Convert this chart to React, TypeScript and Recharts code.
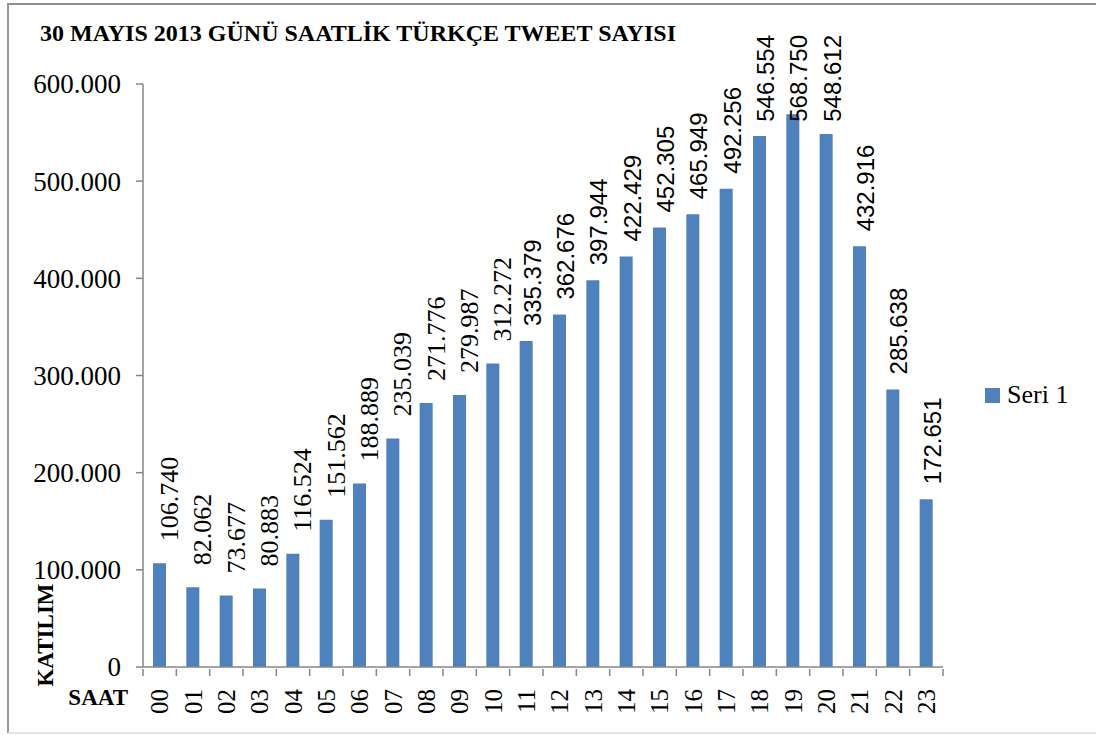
import { Bar, BarChart, LabelList, Legend, XAxis, YAxis } from "recharts";

const title = "30 MAYIS 2013 GÜNÜ SAATLİK TÜRKÇE TWEET SAYISI";
const seriesName = "Seri 1";
const yLabel = "KATILIM";
const xLabel = "SAAT";

const hours = [
  "00", "01", "02", "03", "04", "05", "06", "07", "08", "09", "10", "11",
  "12", "13", "14", "15", "16", "17", "18", "19", "20", "21", "22", "23"
];
const tweets = [
  106740, 82062, 73677, 80883, 116524, 151562, 188889, 235039, 271776, 279987, 312272, 335379,
  362676, 397944, 422429, 452305, 465949, 492256, 546554, 568750, 548612, 432916, 285638, 172651
];
const yTicks = [0, 100000, 200000, 300000, 400000, 500000, 600000];

const data = hours.map((hour, i) => ({ hour, value: tweets[i] }));

const W = 1096;
const H = 735;
const PLOT_LEFT = 143;
const PLOT_RIGHT = 943;
const PLOT_TOP = 84;
const PLOT_BOTTOM = 667;
const PLOT_W = PLOT_RIGHT - PLOT_LEFT;
const LABEL_MIN_TOP = 35;

const BLUE = "#4F81BD";
const AXIS = "#868686";
const SERIF = "'Liberation Serif', 'Times New Roman', serif";
const SANS = "'Liberation Sans', Arial, sans-serif";

// 600000 -> "600.000"
const fmt = (v: number) => String(v).replace(/\B(?=(\d{3})+(?!\d))/g, ".");

function HourTick(props: any) {
  const { x, y, payload } = props;
  const band = PLOT_W / hours.length;
  const left = x - band / 2;
  const last = payload.index === hours.length - 1;
  return (
    <g>
      <line x1={left} x2={left} y1={y} y2={y + 7} stroke={AXIS} strokeWidth={1.5} />
      {last && <line x1={left + band} x2={left + band} y1={y} y2={y + 7} stroke={AXIS} strokeWidth={1.5} />}
      <text
        transform={`translate(${x},${y + 20}) rotate(-90)`}
        textAnchor="end"
        dominantBaseline="central"
        style={{ fontFamily: SERIF, fontSize: 25 }}
        fill="#000"
      >
        {payload.value}
      </text>
    </g>
  );
}

function CountTick(props: any) {
  const { x, y, payload } = props;
  return (
    <text x={x} y={y} dy="0.35em" textAnchor="end" style={{ fontFamily: SERIF, fontSize: 27 }} fill="#000">
      {fmt(payload.value)}
    </text>
  );
}

function ValueLabel(props: any) {
  const { x, y, width, value, index } = props;
  const serif = index <= 10;
  const size = serif ? 26 : 24;
  const text = fmt(Number(value));
  const est = size * (serif ? (text.length - 1) * 0.5 + 0.25 : (text.length - 1) * 0.556 + 0.278);
  const gap = serif ? 22 : 15;
  const bottom = Math.max(y - gap, LABEL_MIN_TOP + est);
  const cx = x + width / 2 + (serif ? 10 : 6);
  return (
    <text
      transform={`translate(${cx},${bottom}) rotate(-90)`}
      textAnchor="start"
      dominantBaseline="central"
      style={{ fontFamily: serif ? SERIF : SANS, fontSize: size }}
      fill="#000"
    >
      {text}
    </text>
  );
}

function LegendBox(props: any) {
  const items = props.payload || [];
  return (
    <div>
      {items.map((item: any) => (
        <div key={item.value} style={{ display: "flex", alignItems: "center" }}>
          <span style={{ display: "inline-block", width: 15, height: 15, background: item.color, marginRight: 7 }} />
          <span style={{ fontFamily: SERIF, fontSize: 26, color: "#000" }}>{item.value}</span>
        </div>
      ))}
    </div>
  );
}

export default function App() {
  return (
    <div style={{ position: "absolute", left: 0, top: 0, width: W, height: H, overflow: "hidden", background: "#fff" }}>
      <BarChart
        width={W}
        height={H}
        data={data}
        margin={{ top: PLOT_TOP, right: W - PLOT_RIGHT, bottom: H - PLOT_BOTTOM - 60, left: PLOT_LEFT - 120 }}
      >
        <XAxis
          dataKey="hour"
          interval={0}
          height={60}
          tickSize={0}
          tickLine={false}
          axisLine={{ stroke: AXIS, strokeWidth: 1.5 }}
          tick={<HourTick />}
        />
        <YAxis
          type="number"
          domain={[0, 600000]}
          ticks={yTicks}
          interval={0}
          width={120}
          tickSize={7}
          tickMargin={15}
          axisLine={{ stroke: AXIS, strokeWidth: 1.5 }}
          tickLine={{ stroke: AXIS, strokeWidth: 1.5 }}
          tick={<CountTick />}
        />
        <Legend
          layout="horizontal"
          verticalAlign="middle"
          align="center"
          wrapperStyle={{ left: 985, top: 380, width: "auto" }}
          content={<LegendBox />}
        />
        <Bar dataKey="value" name={seriesName} fill={BLUE} barSize={13} isAnimationActive={false}>
          <LabelList dataKey="value" content={<ValueLabel />} />
        </Bar>
      </BarChart>
      <svg width={W} height={H} style={{ position: "absolute", left: 0, top: 0, pointerEvents: "none" }}>
        <line x1={8} x2={8} y1={3} y2={733} stroke="#9a9a9a" strokeWidth={2} />
        <line x1={8} x2={W} y1={4} y2={4} stroke="#8f8f8f" strokeWidth={2} />
        <line x1={8} x2={W} y1={733} y2={733} stroke="#dcdcdc" strokeWidth={1.5} />
        <text x={40} y={41} style={{ fontFamily: SERIF, fontWeight: "bold", fontSize: 24 }} fill="#000">
          {title}
        </text>
        <text
          transform="translate(53,635) rotate(-90)"
          textAnchor="middle"
          style={{ fontFamily: SERIF, fontWeight: "bold", fontSize: 23 }}
          fill="#000"
        >
          {yLabel}
        </text>
        <text x={128} y={705} textAnchor="end" style={{ fontFamily: SERIF, fontWeight: "bold", fontSize: 23 }} fill="#000">
          {xLabel}
        </text>
      </svg>
    </div>
  );
}
